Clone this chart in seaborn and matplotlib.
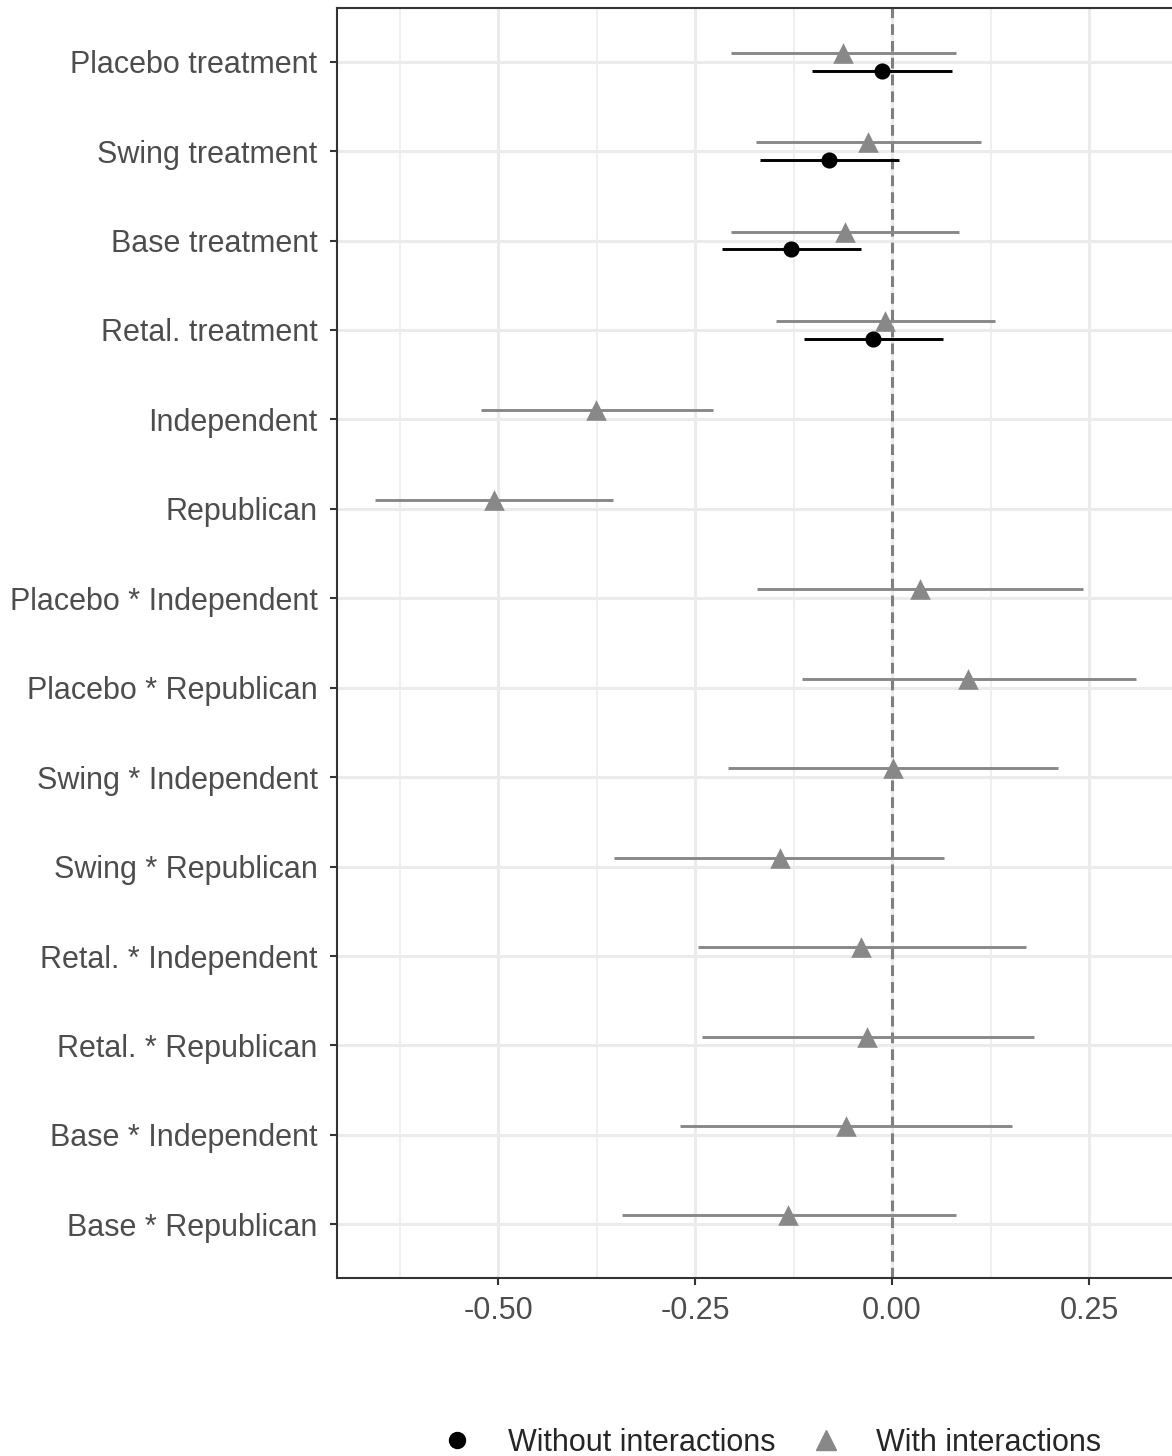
import pandas as pd
import matplotlib.pyplot as plt
import seaborn as sns
from matplotlib.lines import Line2D

sns.set_theme(style="white")
plt.rcParams["font.family"] = ["Liberation Sans", "DejaVu Sans"]

terms = [
    "Placebo treatment", "Swing treatment", "Base treatment", "Retal. treatment",
    "Independent", "Republican",
    "Placebo * Independent", "Placebo * Republican",
    "Swing * Independent", "Swing * Republican",
    "Retal. * Independent", "Retal. * Republican",
    "Base * Independent", "Base * Republican",
]

# model with interactions (all terms)
with_est = [-0.062, -0.030, -0.060, -0.009, -0.376, -0.506, 0.036, 0.096,
            0.001, -0.143, -0.039, -0.032, -0.058, -0.132]
with_lo = [-0.204, -0.173, -0.204, -0.148, -0.522, -0.657, -0.171, -0.115,
           -0.209, -0.353, -0.247, -0.242, -0.269, -0.343]
with_hi = [0.081, 0.113, 0.085, 0.131, -0.228, -0.355, 0.242, 0.310,
           0.211, 0.066, 0.170, 0.180, 0.152, 0.081]

# model without interactions (treatments only)
without_terms = terms[:4]
without_est = [-0.013, -0.080, -0.128, -0.024]
without_lo = [-0.102, -0.168, -0.216, -0.112]
without_hi = [0.076, 0.009, -0.039, 0.065]

models = ["Without interactions", "With interactions"]
colors = {"Without interactions": "black", "With interactions": "#888888"}
offsets = {"Without interactions": 0.1, "With interactions": -0.1}

df = pd.concat([
    pd.DataFrame({"term": without_terms, "est": without_est, "lo": without_lo,
                  "hi": without_hi, "model": models[0]}),
    pd.DataFrame({"term": terms, "est": with_est, "lo": with_lo,
                  "hi": with_hi, "model": models[1]}),
], ignore_index=True)
df["ypos"] = df["term"].map({t: i for i, t in enumerate(terms)}) + df["model"].map(offsets)

fig = plt.figure(figsize=(11.72, 14.56), dpi=100)
ax = fig.add_axes([337 / 1172, 178 / 1456, 837 / 1172, 1270 / 1456])

ax.set_xticks([-0.625, -0.375, -0.125, 0.125], minor=True)
ax.grid(True, which="major", color="#EBEBEB", linewidth=2.2)
ax.grid(True, which="minor", axis="x", color="#EBEBEB", linewidth=1.1)
ax.set_axisbelow(True)

ax.axvline(0, color="#7F7F7F", linewidth=2.2, linestyle=(0, (3.5, 2)), zorder=1.5)

for m in models[::-1]:
    sub = df[df["model"] == m]
    ax.hlines(sub["ypos"], sub["lo"], sub["hi"], color=colors[m], linewidth=2.1, zorder=2)

sns.scatterplot(data=df[df["model"] == models[1]], x="est", y="ypos", marker="^",
                color=colors[models[1]], s=220, linewidth=0, ax=ax, zorder=3, legend=False)
sns.scatterplot(data=df[df["model"] == models[0]], x="est", y="ypos", marker="o",
                color=colors[models[0]], s=135, linewidth=0, ax=ax, zorder=3, legend=False)

ax.set_xlim(-0.705, 0.358)
ax.set_ylim(13.6, -0.6)
ax.set_xticks([-0.50, -0.25, 0.00, 0.25])
ax.set_xticklabels(["-0.50", "-0.25", "0.00", "0.25"])
ax.set_yticks(range(len(terms)))
ax.set_yticklabels(terms)
ax.set_xlabel("")
ax.set_ylabel("")
ax.tick_params(axis="both", which="major", labelsize=22, labelcolor="#4D4D4D",
               color="#333333", length=5, width=1.5, pad=8, left=True, bottom=True)
ax.tick_params(axis="y", which="major", pad=9)
ax.tick_params(axis="x", which="minor", length=0)

for side, sp in ax.spines.items():
    sp.set_color("#333333")
    sp.set_linewidth(1.5)

handles = [
    Line2D([], [], marker="o", color="black", linestyle="none", markersize=11.5),
    Line2D([], [], marker="^", color="#888888", linestyle="none", markersize=14),
]
fig.legend(handles, models, loc="center", bbox_to_anchor=(0.652, 0.009), ncol=2,
           frameon=False, fontsize=22, handletextpad=0.65, columnspacing=0.65)

fig.savefig("out.png", dpi=100)
